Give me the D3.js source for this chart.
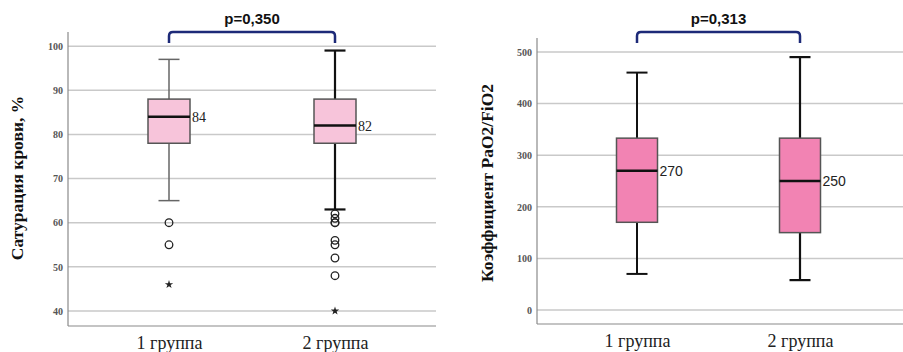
<!DOCTYPE html>
<html>
<head>
<meta charset="utf-8">
<script src="https://cdn.jsdelivr.net/npm/d3@7/dist/d3.min.js"></script>
<style>
  body { margin: 0; background: #fff; }
  svg { display: block; }
</style>
</head>
<body>
<svg id="chart" width="903" height="352"></svg>
<script>
'use strict';

// groups
var groups = ['1 группа', '2 группа'];

// left panel: saturation, %
var satTicks = [40, 50, 60, 70, 80, 90, 100];
var satLow = [65, 63];
var satQ1 = [78, 78];
var satMedian = [84, 82];
var satQ3 = [88, 88];
var satHigh = [97, 99];
var satOutliers = [[60, 55], [62, 61, 60, 60, 56, 55, 52, 48]];
var satExtremes = [[46], [40]];
var satP = 'p=0,350';

// right panel: PaO2/FiO2
var pfTicks = [0, 100, 200, 300, 400, 500];
var pfLow = [70, 58];
var pfQ1 = [170, 150];
var pfMedian = [270, 250];
var pfQ3 = [333, 333];
var pfHigh = [460, 490];
var pfP = 'p=0,313';

var svg = d3.select('#chart');

function drawPanel(opt) {
  var g = svg.append('g');
  var x = d3.scalePoint().domain(groups).range(opt.xr);
  var y = d3.scaleLinear().domain(opt.domain).range([opt.bottom, opt.top]);

  // grid lines
  g.selectAll('line.grid')
    .data(opt.ticks)
    .enter().append('line')
    .attr('class', 'grid')
    .attr('x1', opt.left)
    .attr('x2', opt.right)
    .attr('y1', function (d) { return y(d); })
    .attr('y2', function (d) { return y(d); })
    .attr('stroke', '#c9c9c9')
    .attr('stroke-width', 1.5);

  // y axis
  var yAxis = d3.axisLeft(y).tickValues(opt.ticks).tickSize(0).tickPadding(5);
  var ya = g.append('g').attr('transform', 'translate(' + opt.left + ',0)').call(yAxis);
  ya.select('.domain').attr('stroke', '#8a8a8a').attr('stroke-width', 1.2)
    .attr('d', 'M0,' + opt.top + 'V' + opt.bottom);
  ya.selectAll('text')
    .attr('font-family', 'Liberation Serif, serif')
    .attr('font-size', 10)
    .attr('font-weight', 'bold')
    .attr('fill', '#555');

  // x axis
  var xAxis = d3.axisBottom(x).tickSize(0).tickPadding(10);
  var xa = g.append('g').attr('transform', 'translate(0,' + opt.bottom + ')').call(xAxis);
  xa.select('.domain').attr('stroke', '#8a8a8a').attr('stroke-width', 1.2)
    .attr('d', 'M' + opt.left + ',0H' + opt.right);
  xa.selectAll('text')
    .attr('font-family', 'Liberation Serif, serif')
    .attr('font-size', 18)
    .attr('fill', '#222');

  // y title
  g.append('text')
    .attr('transform', 'translate(' + opt.titleX + ',' + opt.titleY + ') rotate(-90)')
    .attr('text-anchor', 'middle')
    .attr('font-family', 'Liberation Serif, serif')
    .attr('font-weight', 'bold')
    .attr('font-size', opt.titleSize)
    .attr('fill', '#111')
    .text(opt.title);

  var bw = opt.boxW, cw = 21;

  groups.forEach(function (grp, i) {
    var cx = x(grp);
    var col = opt.lineColor[i], sw = opt.lineW[i];
    // whiskers
    g.append('line').attr('x1', cx).attr('x2', cx)
      .attr('y1', y(opt.high[i])).attr('y2', y(opt.q3[i]))
      .attr('stroke', col).attr('stroke-width', sw);
    g.append('line').attr('x1', cx).attr('x2', cx)
      .attr('y1', y(opt.q1[i])).attr('y2', y(opt.low[i]))
      .attr('stroke', col).attr('stroke-width', sw);
    g.append('line').attr('x1', cx - cw / 2).attr('x2', cx + cw / 2)
      .attr('y1', y(opt.high[i])).attr('y2', y(opt.high[i]))
      .attr('stroke', col).attr('stroke-width', sw);
    g.append('line').attr('x1', cx - cw / 2).attr('x2', cx + cw / 2)
      .attr('y1', y(opt.low[i])).attr('y2', y(opt.low[i]))
      .attr('stroke', col).attr('stroke-width', sw);
    // box
    g.append('rect')
      .attr('x', cx - bw / 2)
      .attr('y', y(opt.q3[i]))
      .attr('width', bw)
      .attr('height', y(opt.q1[i]) - y(opt.q3[i]))
      .attr('fill', opt.fill)
      .attr('stroke', '#555')
      .attr('stroke-width', 1.5);
    // median
    g.append('line').attr('x1', cx - bw / 2).attr('x2', cx + bw / 2)
      .attr('y1', y(opt.median[i])).attr('y2', y(opt.median[i]))
      .attr('stroke', '#111').attr('stroke-width', 2.5);
    g.append('text')
      .attr('x', cx + bw / 2 + 2)
      .attr('y', y(opt.median[i]) + 5)
      .attr('font-family', opt.labelFont)
      .attr('font-size', 14)
      .attr('fill', '#222')
      .text(opt.median[i]);

    // outliers
    if (opt.outliers) {
      g.selectAll(null).data(opt.outliers[i]).enter().append('circle')
        .attr('cx', cx).attr('cy', function (d) { return y(d); })
        .attr('r', 3.8)
        .attr('fill', 'none').attr('stroke', '#222').attr('stroke-width', 1.3);
      g.selectAll(null).data(opt.extremes[i]).enter().append('path')
        .attr('d', d3.symbol().type(d3.symbolStar).size(22))
        .attr('transform', function (d) { return 'translate(' + cx + ',' + y(d) + ')'; })
        .attr('fill', '#222');
    }
  });

  // significance bracket
  var x1 = x(groups[0]), x2 = x(groups[1]), by = 32, bd = 11, r = 4;
  g.append('path')
    .attr('d', 'M' + x1 + ',' + (by + bd) + 'V' + (by + r) + 'Q' + x1 + ',' + by + ' ' + (x1 + r) + ',' + by +
      'H' + (x2 - r) + 'Q' + x2 + ',' + by + ' ' + x2 + ',' + (by + r) + 'V' + (by + bd))
    .attr('fill', 'none')
    .attr('stroke', '#1d2a78')
    .attr('stroke-width', 2.5);
  g.append('text')
    .attr('x', (x1 + x2) / 2)
    .attr('y', 24)
    .attr('text-anchor', 'middle')
    .attr('font-family', 'Liberation Sans, Arial, sans-serif')
    .attr('font-weight', 'bold')
    .attr('font-size', 15)
    .attr('fill', '#111')
    .text(opt.p);
}

drawPanel({
  xr: [169, 335], left: 68, right: 436, top: 32, bottom: 326,
  domain: [36.6, 103.2], ticks: satTicks,
  low: satLow, q1: satQ1, median: satMedian, q3: satQ3, high: satHigh,
  outliers: satOutliers, extremes: satExtremes,
  fill: '#f7c4da', boxW: 42,
  lineColor: ['#666', '#111'], lineW: [1.5, 2.2],
  labelFont: 'Liberation Serif, serif',
  title: 'Сатурация крови, %', titleSize: 17.5, titleX: 23, titleY: 178, p: satP
});

drawPanel({
  xr: [637, 800], left: 537, right: 903, top: 38, bottom: 324,
  domain: [-27, 527], ticks: pfTicks,
  low: pfLow, q1: pfQ1, median: pfMedian, q3: pfQ3, high: pfHigh,
  fill: '#f283b3', boxW: 41,
  lineColor: ['#111', '#111'], lineW: [2, 2.2],
  labelFont: 'Liberation Sans, Arial, sans-serif',
  title: 'Коэффициент PaO2/FiO2', titleSize: 17.5, titleX: 493, titleY: 183, p: pfP
});
</script>
</body>
</html>
